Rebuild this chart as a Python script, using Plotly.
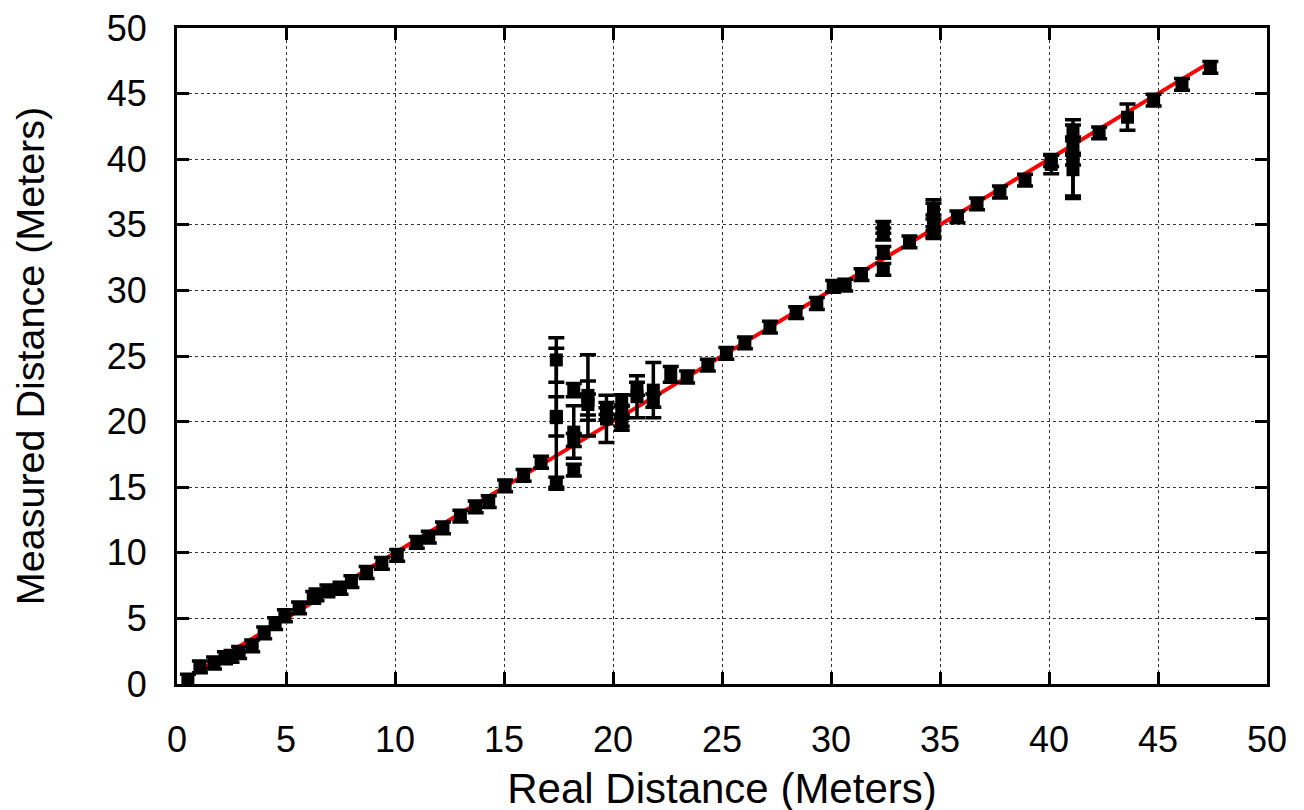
import plotly.graph_objects as go

# Real distance (m), measured distance (m), and error (m)
real_x = [0.5, 1.05, 1.7, 2.2, 2.5, 2.85, 3.45, 4.0, 4.5, 4.95, 5.6, 6.25, 6.4, 6.9, 7.5, 8.0, 8.7, 9.4,
          10.1, 11.0, 11.55, 12.2, 13.0, 13.7, 14.3, 15.05, 15.9, 16.7,
          17.4, 17.4, 17.4, 17.4, 18.2, 18.2, 18.2, 18.2, 18.85, 18.85, 18.85,
          19.7, 19.7, 19.7, 20.4, 20.4, 20.4, 20.4, 21.1, 21.1, 21.85, 21.85,
          22.65, 23.4, 24.35, 25.2, 26.05, 27.2, 28.4, 29.35, 30.1, 30.65, 31.4,
          32.4, 32.4, 32.4, 32.4, 33.6, 34.7, 34.7, 34.7, 34.7, 35.8, 36.7, 37.75, 38.9,
          40.1, 40.1, 41.1, 41.1, 41.1, 41.1, 41.1, 42.3, 43.6, 44.8, 46.1, 47.4]
measured_y = [0.3, 1.3, 1.6, 2.0, 2.1, 2.4, 2.9, 3.9, 4.6, 5.2, 5.8, 6.6, 6.8, 7.1, 7.3, 7.8, 8.5, 9.2,
              9.8, 10.8, 11.2, 11.9, 12.8, 13.5, 13.9, 15.1, 15.9, 16.9,
              24.7, 20.3, 20.4, 15.3, 22.4, 19.2, 18.6, 16.3, 22.0, 21.6, 21.3,
              20.2, 21.0, 20.6, 21.6, 20.8, 20.1, 19.8, 21.9, 22.5, 22.4, 21.6,
              23.6, 23.4, 24.3, 25.2, 26.0, 27.2, 28.3, 29.0, 30.3, 30.4, 31.2,
              34.8, 34.3, 32.9, 31.6, 33.7, 35.5, 36.2, 34.4, 35.0, 35.6, 36.6, 37.5, 38.4,
              39.6, 39.9, 42.1, 41.0, 40.0, 39.2, 40.1, 42.0, 43.2, 44.5, 45.7, 47.0]
error_y = [0.45, 0.45, 0.45, 0.45, 0.45, 0.45, 0.45, 0.45, 0.45, 0.45, 0.45, 0.45, 0.45, 0.45, 0.45, 0.45, 0.45, 0.45,
           0.45, 0.45, 0.45, 0.45, 0.45, 0.45, 0.45, 0.45, 0.45, 0.45,
           1.7, 5.3, 1.5, 0.45, 0.5, 2.0, 0.5, 0.45, 3.1, 1.5, 0.8,
           1.8, 0.45, 0.45, 0.45, 0.45, 0.45, 0.45, 1.6, 0.5, 2.1, 0.5,
           0.6, 0.45, 0.45, 0.45, 0.45, 0.45, 0.45, 0.45, 0.45, 0.45, 0.45,
           0.45, 0.45, 0.45, 0.45, 0.45, 1.4, 0.45, 0.45, 0.45, 0.45, 0.45, 0.45, 0.45,
           0.7, 0.45, 0.5, 0.7, 0.45, 2.2, 2.9, 0.45, 1.0, 0.45, 0.45, 0.45]

fit_x = [0.3, 47.4]
fit_y = [0.3, 47.4]

x_ticks = [0, 5, 10, 15, 20, 25, 30, 35, 40, 45, 50]
y_ticks = [0, 5, 10, 15, 20, 25, 30, 35, 40, 45, 50]

fig = go.Figure()
fig.add_trace(go.Scatter(x=fit_x, y=fit_y, mode="lines",
                         line=dict(color="#ff0000", width=4), showlegend=False, hoverinfo="skip"))
fig.add_trace(go.Scatter(x=real_x, y=measured_y, mode="markers",
                         marker=dict(symbol="square", size=13, color="black"),
                         error_y=dict(type="data", array=error_y, visible=True,
                                      color="black", thickness=3.5, width=8),
                         showlegend=False))

font_family = "Liberation Sans, Arial, sans-serif"
axis_common = dict(
    showline=True, linewidth=3, linecolor="black", mirror="ticks",
    ticks="inside", ticklen=12, tickwidth=3, tickcolor="black",
    showgrid=True, gridcolor="#333333", gridwidth=1, griddash="dot",
    zeroline=False, automargin=False, ticklabeloverflow="allow",
    tickfont=dict(family=font_family, size=36, color="black"),
)

fig.update_layout(
    width=1304, height=810,
    paper_bgcolor="white", plot_bgcolor="white",
    margin=dict(l=169, r=45, t=20, b=134),
    font=dict(family=font_family, color="black"),
    xaxis=dict(range=[0, 50], tickvals=x_ticks, ticktext=[str(v) for v in x_ticks],
               title=dict(text="Real Distance (Meters)", font=dict(family=font_family, size=42), standoff=15),
               ticklabelstandoff=22, **axis_common),
    yaxis=dict(range=[0, 50], tickvals=y_ticks, ticktext=[str(v) for v in y_ticks],
               title=dict(text="Measured Distance (Meters)", font=dict(family=font_family, size=39.5), standoff=54),
               ticklabelstandoff=20, **axis_common),
)

fig.write_html("out.html")
